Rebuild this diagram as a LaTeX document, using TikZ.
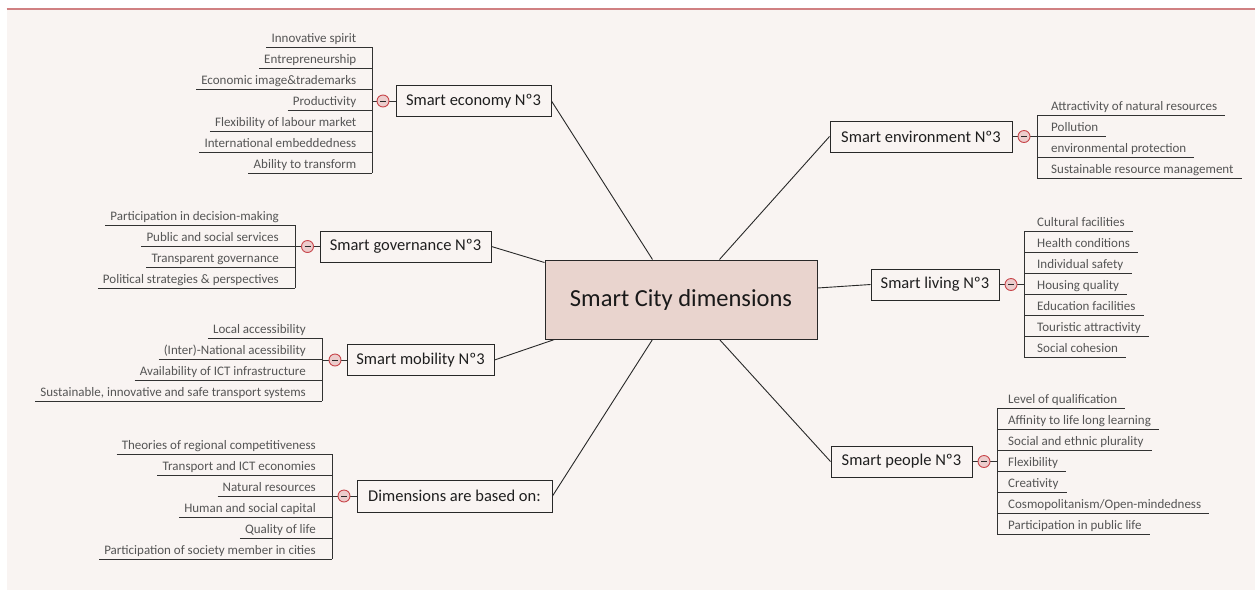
\documentclass[tikz,border=0pt]{standalone}
\usepackage{fontspec}
\setmainfont{Carlito}
\definecolor{bg}{RGB}{249,244,242}
\definecolor{topline}{RGB}{208,128,130}
\definecolor{cfill}{RGB}{233,212,206}
\definecolor{edge}{RGB}{40,40,40}
\definecolor{leaftext}{RGB}{85,85,85}
\definecolor{ulc}{RGB}{50,50,50}
\definecolor{colred}{RGB}{200,70,75}
\definecolor{colfill}{RGB}{236,204,204}
\tikzset{
  central/.style={draw=edge, line width=1pt, fill=cfill, minimum width=272pt, minimum height=79pt, inner sep=0, font=\fontsize{24.5}{28}\selectfont, text=black!90},
  topic/.style={draw=edge, line width=1pt, fill=bg, font=\fontsize{16.5}{20}\selectfont, text=black!88, minimum height=31pt, inner sep=0},
  link/.style={draw=edge, line width=0.9pt},
  uline/.style={draw=ulc, line width=1pt},
  leafL/.style={anchor=base east, inner sep=0, text depth=5pt, font=\fontsize{13}{15}\selectfont, text=leaftext},
  leafR/.style={anchor=base west, inner sep=0, text depth=5pt, font=\fontsize{13}{15}\selectfont, text=leaftext},
  collapse/.style={circle, draw=colred, fill=colfill, line width=0.9pt, minimum size=12pt, inner sep=0,
    path picture={\draw[edge, line width=0.9pt] ([xshift=-3pt]path picture bounding box.center) -- ([xshift=3pt]path picture bounding box.center);}},
}
\begin{document}
\begin{tikzpicture}[x=1pt,y=-1pt]
\useasboundingbox (0,0) rectangle (1256,590);
\fill[white] (0,0) rectangle (1256,590);
\fill[bg] (6.5,9) rectangle (1254.5,590);
\draw[topline, line width=2pt] (6.5,9) -- (1254.5,9);

% central and topics
\node[central] (central) at (681,299.5) {Smart City dimensions};
\node[topic, minimum width=155pt] (econ) at (473.5,101) {Smart economy Nº3};
\node[topic, minimum width=171pt] (gov) at (405.5,246.5) {Smart governance Nº3};
\node[topic, minimum width=147pt] (mob) at (420.5,360) {Smart mobility Nº3};
\node[topic, minimum width=195pt, minimum height=32pt] (dim) at (454.5,496) {Dimensions are based on:};
\node[topic, minimum width=182pt] (env) at (921,136.5) {Smart environment Nº3};
\node[topic, minimum width=128pt] (liv) at (935,284.5) {Smart living Nº3};
\node[topic, minimum width=141pt] (peo) at (901.5,461.5) {Smart people Nº3};

% links to central
\draw[link] (econ.east) -- ([xshift=108pt]central.north west);
\draw[link] (env.west) -- ([xshift=175pt]central.north west);
\draw[link] (gov.east) -- ([yshift=-3pt]central.north west);
\draw[link] (liv.west) -- ([yshift=11.5pt]central.east);
\draw[link] (mob.east) -- ([xshift=10pt]central.south west);
\draw[link] (dim.east) -- ([xshift=108pt]central.south west);
\draw[link] (peo.west) -- ([xshift=175pt]central.south west);

% junction coordinates
\coordinate (ej) at (372,101);
\coordinate (gj) at (295,246.5);
\coordinate (mj) at (322,360);
\coordinate (dj) at (332,496);
\coordinate (nj) at (1037,136.5);
\coordinate (lj) at (1024,284.5);
\coordinate (pj) at (997,461.5);

% economy leaves
\foreach \i/\t in {1/Innovative spirit, 2/Entrepreneurship, 3/Economic image\&trademarks, 4/Productivity, 5/Flexibility of labour market, 6/International embeddedness, 7/Ability to transform}
  \node[leafL] (e\i) at (356.5,21+21*\i) {\t};
\foreach \i in {1,...,7} \draw[uline] ([xshift=-5pt]e\i.south west) -- (e\i.south west -| ej);
\draw[uline] (e1.south west -| ej) -- (e7.south west -| ej);
\draw[uline] (ej) -- (econ.west);

% governance leaves
\foreach \i/\t in {1/Participation in decision-making, 2/Public and social services, 3/Transparent governance, 4/Political strategies \& perspectives}
  \node[leafL] (g\i) at (279,199+21*\i) {\t};
\foreach \i in {1,...,4} \draw[uline] ([xshift=-5pt]g\i.south west) -- (g\i.south west -| gj);
\draw[uline] (g1.south west -| gj) -- (g4.south west -| gj);
\draw[uline] (gj) -- (gov.west);

% mobility leaves
\foreach \i/\t in {1/Local accessibility, 2/(Inter)-National acessibility, 3/Availability of ICT infrastructure, 4/{Sustainable, innovative and safe transport systems}}
  \node[leafL] (m\i) at (306,312+21*\i) {\t};
\foreach \i in {1,...,4} \draw[uline] ([xshift=-5pt]m\i.south west) -- (m\i.south west -| mj);
\draw[uline] (m1.south west -| mj) -- (m4.south west -| mj);
\draw[uline] (mj) -- (mob.west);

% dimensions leaves
\foreach \i/\t in {1/Theories of regional competitiveness, 2/Transport and ICT economies, 3/Natural resources, 4/Human and social capital, 5/Quality of life, 6/Participation of society member in cities}
  \node[leafL] (d\i) at (316,428+21*\i) {\t};
\foreach \i in {1,...,6} \draw[uline] ([xshift=-5pt]d\i.south west) -- (d\i.south west -| dj);
\draw[uline] (d1.south west -| dj) -- (d6.south west -| dj);
\draw[uline] (dj) -- (dim.west);

% environment leaves
\foreach \i/\t in {1/Attractivity of natural resources, 2/Pollution, 3/environmental protection, 4/Sustainable resource management}
  \node[leafR] (n\i) at (1051,89+21*\i) {\t};
\foreach \i in {1,...,4} \draw[uline] (n\i.south east -| nj) -- ([xshift=8pt]n\i.south east);
\draw[uline] (n1.south east -| nj) -- (n4.south east -| nj);
\draw[uline] (env.east) -- (nj);

% living leaves
\foreach \i/\t in {1/Cultural facilities, 2/Health conditions, 3/Individual safety, 4/Housing quality, 5/Education facilities, 6/Touristic attractivity, 7/Social cohesion}
  \node[leafR] (l\i) at (1037,205+21*\i) {\t};
\foreach \i in {1,...,7} \draw[uline] (l\i.south east -| lj) -- ([xshift=8pt]l\i.south east);
\draw[uline] (l1.south east -| lj) -- (l7.south east -| lj);
\draw[uline] (liv.east) -- (lj);

% people leaves
\foreach \i/\t in {1/Level of qualification, 2/Affinity to life long learning, 3/Social and ethnic plurality, 4/Flexibility, 5/Creativity, 6/{Cosmopolitanism/Open-mindedness}, 7/Participation in public life}
  \node[leafR] (p\i) at (1008,382+21*\i) {\t};
\foreach \i in {1,...,7} \draw[uline] (p\i.south east -| pj) -- ([xshift=8pt]p\i.south east);
\draw[uline] (p1.south east -| pj) -- (p7.south east -| pj);
\draw[uline] (peo.east) -- (pj);

% collapse markers
\node[collapse] (ec) at (383,101) {};
\node[collapse] (gc) at (307.5,246.5) {};
\node[collapse] (mc) at (335,360) {};
\node[collapse] (dc) at (344,496) {};
\node[collapse] (nc) at (1024,136.5) {};
\node[collapse] (lc) at (1011,284.5) {};
\node[collapse] (pc) at (984,461.5) {};
\end{tikzpicture}
\end{document}
